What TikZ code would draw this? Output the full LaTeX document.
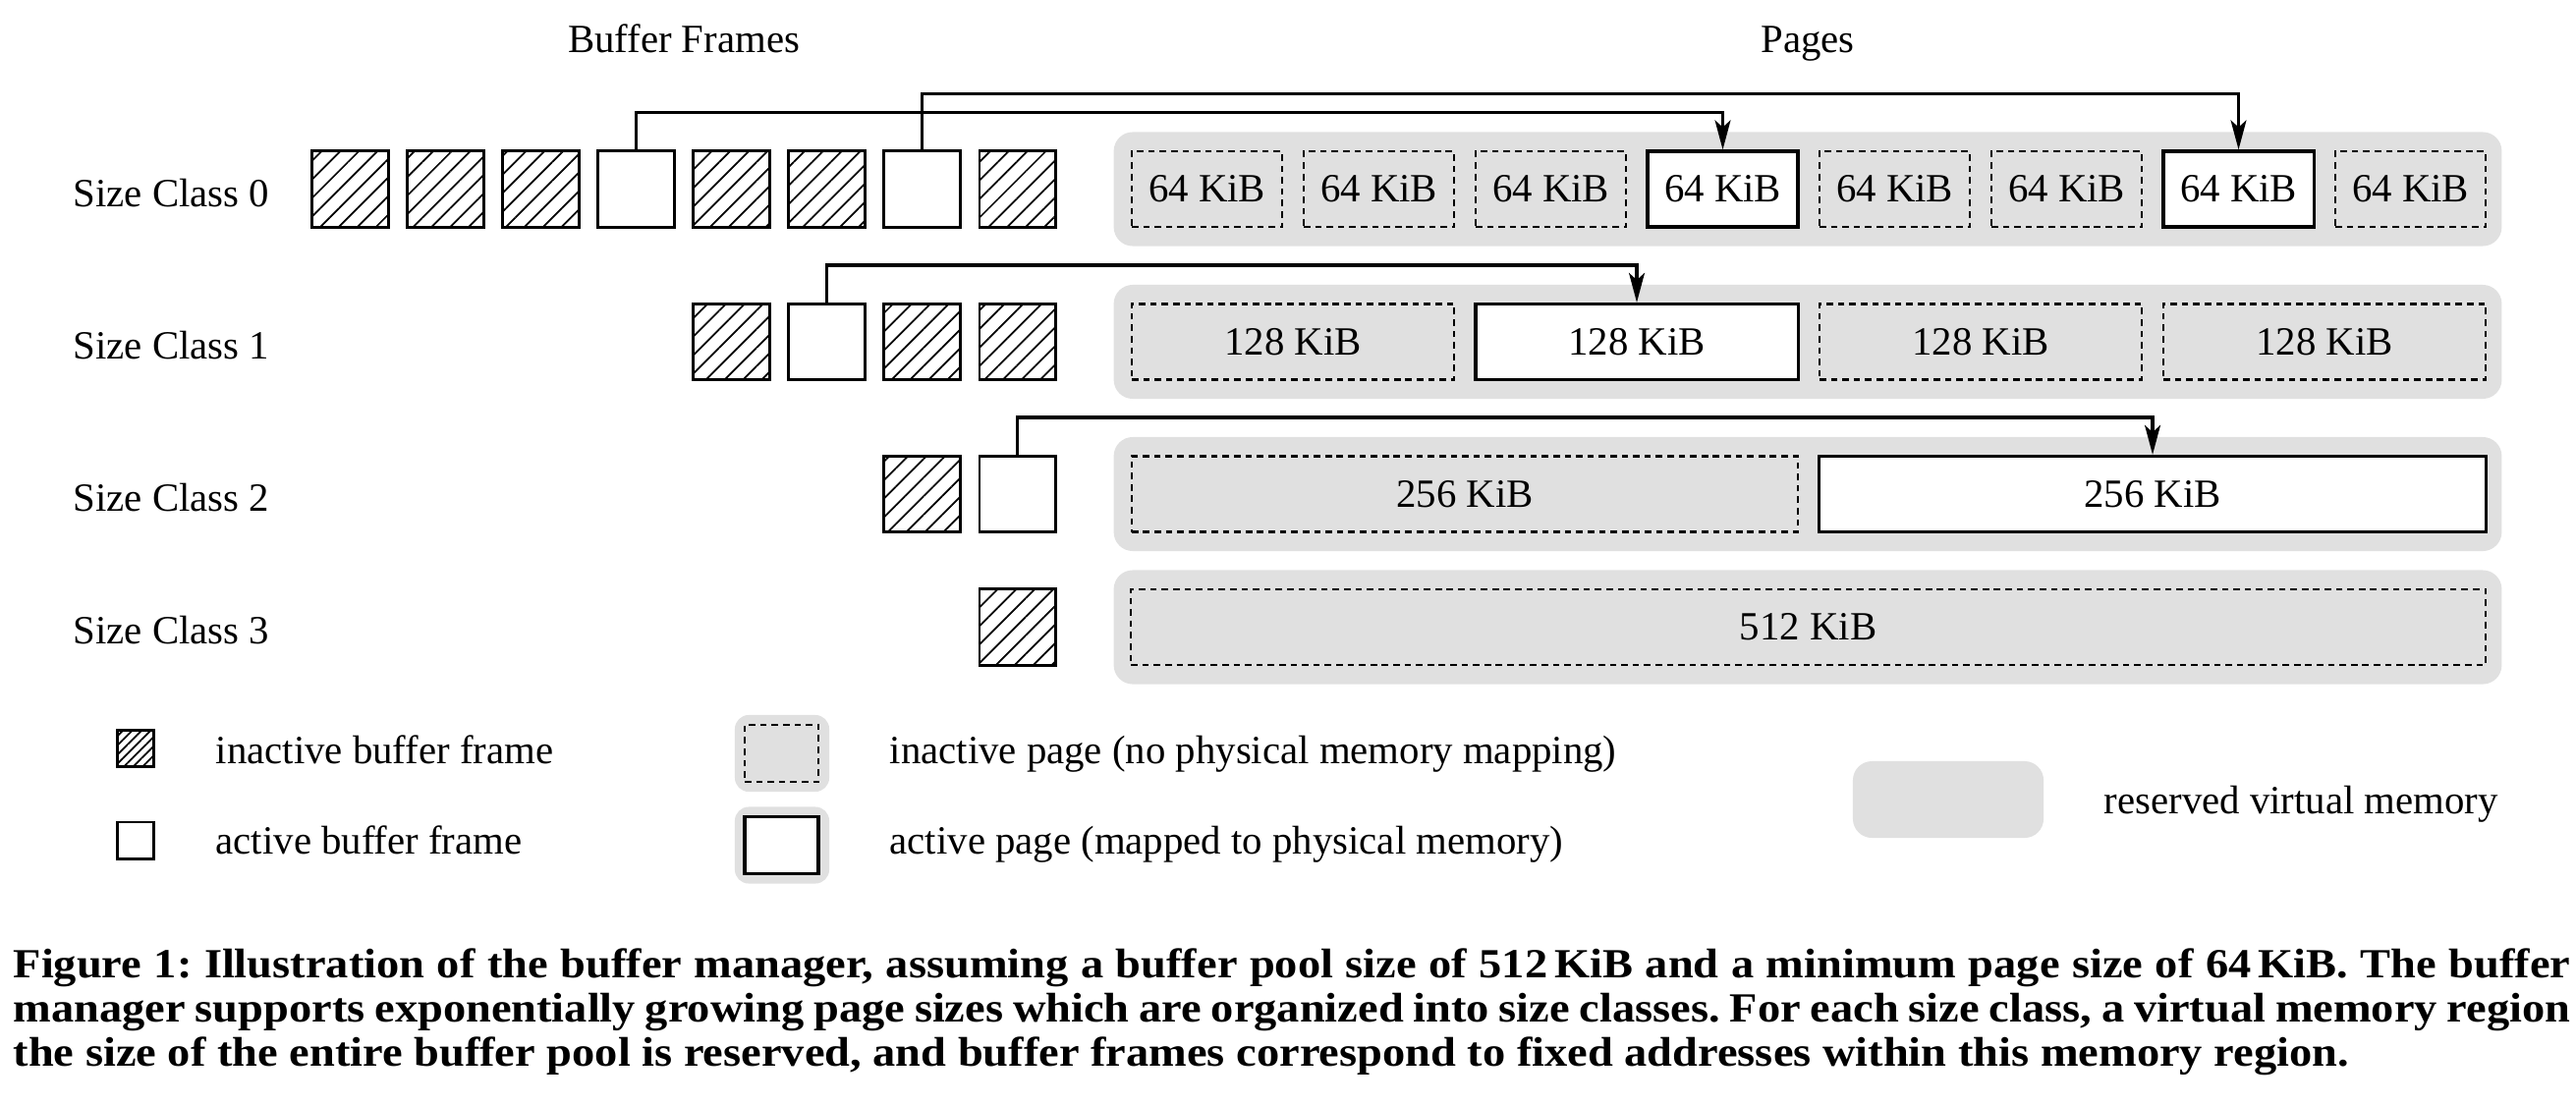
\documentclass[tikz,border=0pt]{standalone}
\usepackage{fontspec}
\setmainfont{Liberation Serif}
\newfontfamily\captionfont[FakeStretch=1.1]{Liberation Serif}
\usetikzlibrary{patterns.meta,arrows.meta}
\definecolor{RegionGray}{HTML}{E0E0E0}

\tikzset{
  hatched/.style={pattern={Lines[angle=45,distance=#1,line width=0.5pt]}},
  hatched/.default=3.8pt,
  busyframe/.style={draw, line width=0.85pt, minimum size=0.77cm, inner sep=0pt},
  idleframe/.style={busyframe, hatched},
  vmregion/.style={fill=RegionGray, rounded corners=5.5pt, inner sep=0pt, minimum height=1.16cm},
  pagebox/.style={minimum height=0.77cm, inner sep=0pt},
  freepage/.style={pagebox, draw, line width=0.65pt, dash pattern=on 1.9pt off 1.4pt},
  usedpage/.style={pagebox, draw, fill=white, line width=0.9pt},
  link/.style={line width=1pt, -{Stealth[length=8.5pt,width=4.5pt,inset=2pt]}},
  lbl/.style={anchor=base west, inner sep=0pt},
  captionline/.style={lbl, font=\captionfont\bfseries\fontsize{12}{14}\selectfont\frenchspacing},
}

\begin{document}
\begin{tikzpicture}[x=0.01cm, y=-0.01cm, every node/.style={font=\fontsize{11.6}{14}\selectfont}]
  \useasboundingbox (0,0) rectangle (2622,1124);
  \node[anchor=base] (hdframes) at (696,53) {Buffer Frames};
  \node[anchor=base] (hdpages) at (1840,53) {Pages};
  \foreach \r/\y in {0/192.5,1/348,2/503,3/638.5}
    \node[vmregion, minimum width=14.12cm] (vm\r) at (1840,\y) {};

  \node[lbl] (sc0) at (74,210) {Size Class 0};
  \foreach \s [count=\i from 0] in {idleframe,idleframe,idleframe,busyframe,idleframe,idleframe,busyframe,idleframe}
    \node[\s] (f0-\i) at (356.5+97*\i,192.5) {};
  \foreach \s [count=\i from 0] in {freepage,freepage,freepage,usedpage,freepage,freepage,usedpage,freepage}
    \node[\s, minimum width=1.53cm] (p0-\i) at (1228.5+175*\i,192.5) {64 KiB};

  \node[lbl] (sc1) at (74,365) {Size Class 1};
  \foreach \s [count=\i from 4] in {idleframe,busyframe,idleframe,idleframe}
    \node[\s] (f1-\i) at (356.5+97*\i,348) {};
  \foreach \s [count=\i from 0] in {freepage,usedpage,freepage,freepage}
    \node[\s, minimum width=3.28cm] (p1-\i) at (1316+350*\i,348) {128 KiB};

  \node[lbl] (sc2) at (74,520) {Size Class 2};
  \foreach \s [count=\i from 6] in {idleframe,busyframe}
    \node[\s] (f2-\i) at (356.5+97*\i,503) {};
  \foreach \s [count=\i from 0] in {freepage,usedpage}
    \node[\s, minimum width=6.78cm] (p2-\i) at (1491+700*\i,503) {256 KiB};

  \node[lbl] (sc3) at (74,655) {Size Class 3};
  \node[idleframe] (f3-7) at (1035.5,638.5) {};
  \node[freepage, minimum width=13.78cm] (p3-0) at (1840.5,638.5) {512 KiB};

  \draw[link] (f0-3.north) -- ++(0,-38) -| (p0-3.north);
  \draw[link] (f0-6.north) -- ++(0,-57) -| (p0-6.north);
  \draw[link] (f1-5.north) -- ++(0,-38) -| (p1-1.north);
  \draw[link] (f2-7.north) -- ++(0,-38) -| (p2-1.north);

  \node[idleframe, hatched=1.9pt, minimum size=0.37cm] (lgidle) at (138,762) {};
  \node[lbl] (lgidletext) at (219,777) {inactive buffer frame};
  \node[busyframe, minimum size=0.37cm] (lgbusy) at (138,855.5) {};
  \node[lbl] (lgbusytext) at (219,869) {active buffer frame};
  \node[vmregion, minimum width=0.96cm, minimum height=0.78cm, rounded corners=4pt] (lgfreebg) at (796,767) {};
  \node[freepage, minimum width=0.75cm, minimum height=0.58cm] (lgfree) at (795.5,767) {};
  \node[lbl] (lgfreetext) at (905,777) {inactive page (no physical memory mapping)};
  \node[vmregion, minimum width=0.96cm, minimum height=0.78cm, rounded corners=4pt] (lgusedbg) at (796,860.5) {};
  \node[usedpage, minimum width=0.75cm, minimum height=0.58cm] (lgused) at (795.5,860.5) {};
  \node[lbl] (lgusedtext) at (905,869) {active page (mapped to physical memory)};
  \node[vmregion, minimum width=1.94cm, minimum height=0.78cm] (lgvm) at (1983,814) {};
  \node[lbl] (lgvmtext) at (2141,828) {reserved virtual memory};

  \node[captionline] (cap1) at (13,995)
    {\makebox[26.01cm][s]{Figure 1: Illustration of the buffer manager, assuming a buffer pool size of 512\,KiB and a minimum page size of 64\,KiB. The buffer}};
  \node[captionline] (cap2) at (13,1040)
    {\makebox[26.01cm][s]{manager supports exponentially growing page sizes which are organized into size classes. For each size class, a virtual memory region}};
  \node[captionline] (cap3) at (13,1085)
    {the size of the entire buffer pool is reserved, and buffer frames correspond to fixed addresses within this memory region.};
\end{tikzpicture}
\end{document}
